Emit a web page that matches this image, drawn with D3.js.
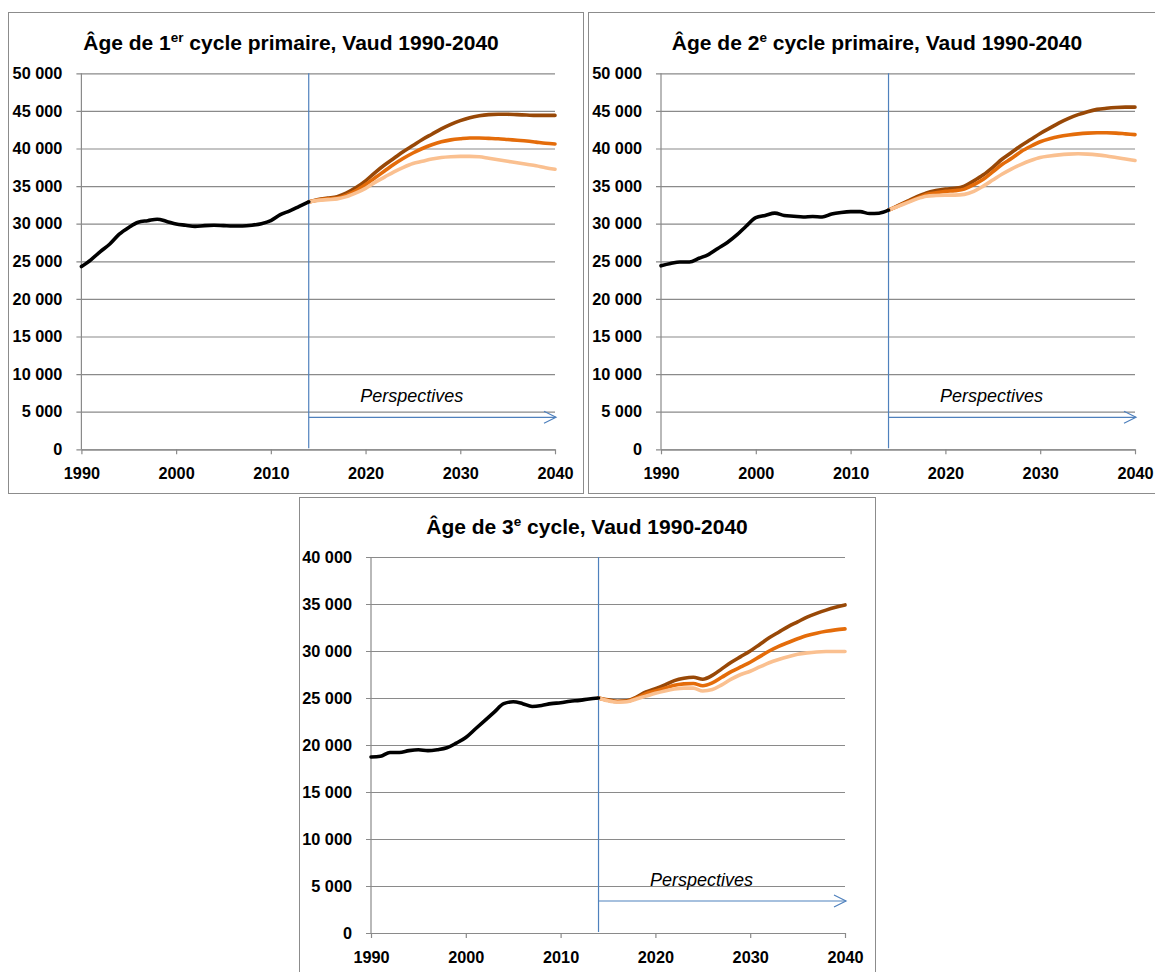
<!DOCTYPE html>
<html>
<head>
<meta charset="utf-8">
<script src="https://cdn.jsdelivr.net/npm/d3@7/dist/d3.min.js"></script>
<style>
  html, body { margin: 0; padding: 0; background: #ffffff; }
  svg { display: block; }
</style>
</head>
<body>
<svg id="chart" width="1155" height="972"></svg>
<script>
// ---------------- DATA ----------------
const histYears = [1990,1991,1992,1993,1994,1995,1996,1997,1998,1999,2000,2001,2002,2003,2004,2005,2006,2007,2008,2009,2010,2011,2012,2013,2014];
const projYears = [2014,2015,2016,2017,2018,2019,2020,2021,2022,2023,2024,2025,2026,2027,2028,2029,2030,2031,2032,2033,2034,2035,2036,2037,2038,2039,2040];

// Panel 1 : 1er cycle primaire
const p1Hist = [24300,25200,26300,27300,28600,29500,30200,30400,30600,30300,29950,29800,29650,29750,29800,29750,29700,29700,29800,30000,30400,31200,31700,32300,32900];
const p1High = [32900,33200,33400,33600,34100,34800,35700,36800,37800,38700,39600,40400,41200,41900,42600,43200,43700,44100,44350,44500,44550,44550,44500,44450,44400,44400,44400];
const p1Mid  = [32900,33150,33300,33400,33800,34400,35200,36100,37000,37900,38700,39400,40000,40500,40900,41150,41300,41400,41400,41350,41300,41200,41100,41000,40850,40700,40600];
const p1Low  = [32900,33100,33200,33300,33600,34100,34700,35500,36200,36900,37500,38000,38300,38600,38800,38900,38950,38950,38900,38700,38500,38300,38100,37900,37700,37450,37250];

// Panel 2 : 2e cycle primaire
const p2Hist = [24400,24700,24900,24900,25400,25900,26700,27500,28500,29700,30800,31100,31400,31100,31000,30900,30950,30900,31300,31500,31600,31600,31350,31400,31800];
const p2High = [31800,32400,33000,33600,34100,34400,34600,34700,35000,35700,36500,37500,38600,39500,40400,41200,42000,42700,43400,44000,44500,44900,45200,45350,45450,45500,45500];
const p2Mid  = [31800,32350,32900,33400,33900,34100,34300,34400,34600,35200,35900,36900,37900,38700,39600,40300,40900,41300,41600,41800,41950,42050,42100,42100,42050,41950,41850];
const p2Low  = [31800,32300,32800,33300,33650,33750,33800,33800,33900,34300,35000,35800,36600,37300,37900,38400,38800,39000,39150,39250,39300,39250,39150,39000,38800,38600,38400];

// Panel 3 : 3e cycle
const p3Hist = [18720,18800,19200,19200,19400,19500,19400,19500,19700,20200,20800,21700,22600,23500,24400,24600,24400,24100,24200,24400,24500,24650,24750,24900,25000];
const p3High = [25000,24800,24650,24700,25100,25650,26000,26400,26850,27100,27200,27000,27400,28100,28800,29400,30000,30700,31400,32000,32600,33100,33600,34000,34350,34650,34900];
const p3Mid  = [25000,24750,24600,24650,25000,25450,25750,26050,26350,26500,26550,26300,26600,27200,27800,28300,28800,29400,30000,30500,30900,31300,31650,31900,32100,32250,32350];
const p3Low  = [25000,24700,24550,24600,24900,25200,25500,25750,25950,26050,26050,25750,25900,26400,27000,27500,27850,28300,28750,29100,29400,29650,29800,29900,29950,29950,29950];

const xTicks = [1990,2000,2010,2020,2030,2040];
const yTicks50 = [0,5000,10000,15000,20000,25000,30000,35000,40000,45000,50000];
const yTicks40 = [0,5000,10000,15000,20000,25000,30000,35000,40000];
const xDomain = [1990, 2040];
const perspectiveYear = 2014;
const perspectivesLabel = "Perspectives";

const titles = [
  { pre: "Âge de 1", sup: "er", post: " cycle primaire, Vaud 1990-2040" },
  { pre: "Âge de 2", sup: "e",  post: " cycle primaire, Vaud 1990-2040" },
  { pre: "Âge de 3", sup: "e",  post: " cycle, Vaud 1990-2040" }
];

// ---------------- LAYOUT / STYLE ----------------
const colors = { hist: "#000000", high: "#984807", mid: "#E46C0A", low: "#FAC090", grid: "#8a8a8a", blue: "#4F81BD", frame: "#8c8c8c" };

const panels = [
  { frame: [8, 12, 575, 481],  plot: { left: 81.4, right: 555, top: 73.3, bottom: 449.3 }, titleX: 291, titleY: 50,
    yTicks: yTicks50, yMax: 50000, hist: p1Hist, high: p1High, mid: p1Mid, low: p1Low, title: titles[0] },
  { frame: [588, 12, 575, 481], plot: { left: 661, right: 1135, top: 73.3, bottom: 449.3 }, titleX: 877, titleY: 50,
    yTicks: yTicks50, yMax: 50000, hist: p2Hist, high: p2High, mid: p2Mid, low: p2Low, title: titles[1] },
  { frame: [299, 497, 576, 490], plot: { left: 371, right: 845, top: 557, bottom: 933 }, titleX: 587, titleY: 534,
    yTicks: yTicks40, yMax: 40000, hist: p3Hist, high: p3High, mid: p3Mid, low: p3Low, title: titles[2] }
];

const locale = d3.formatLocale({ decimal: ",", thousands: " ", grouping: [3], currency: ["", ""] });
const fmt = locale.format(",d");

const svg = d3.select("#chart");
const FONT = "'Liberation Sans', Arial, sans-serif";

panels.forEach(p => {
  const g = svg.append("g");
  const [fx, fy, fw, fh] = p.frame;
  g.append("rect").attr("x", fx + 0.5).attr("y", fy + 0.5).attr("width", fw).attr("height", fh)
    .attr("fill", "#fff").attr("stroke", colors.frame).attr("stroke-width", 1);

  const x = d3.scaleLinear().domain(xDomain).range([p.plot.left, p.plot.right]);
  const y = d3.scaleLinear().domain([0, p.yMax]).range([p.plot.bottom, p.plot.top]);
  const w = p.plot.right - p.plot.left;

  // Title
  const t = g.append("text").attr("x", p.titleX).attr("y", p.titleY).attr("text-anchor", "middle")
    .attr("font-family", FONT).attr("font-weight", "bold").attr("font-size", 21).attr("fill", "#000");
  t.append("tspan").text(p.title.pre);
  t.append("tspan").attr("dy", -8).attr("font-size", 13.5).text(p.title.sup);
  t.append("tspan").attr("dy", 8).text(p.title.post);

  // Y axis with gridlines
  const ya = g.append("g").attr("transform", `translate(${p.plot.left},0)`)
    .call(d3.axisLeft(y).tickValues(p.yTicks).tickSizeInner(-w).tickSizeOuter(0).tickPadding(19).tickFormat(fmt));
  ya.select(".domain").remove();
  ya.selectAll(".tick line").attr("x1", -5).attr("x2", w).attr("stroke", colors.grid).attr("stroke-width", 1.2);
  ya.selectAll(".tick text").attr("font-family", FONT).attr("font-weight", "bold").attr("font-size", 16.3).attr("fill", "#000");

  // X axis
  const xa = g.append("g").attr("transform", `translate(0,${p.plot.bottom})`)
    .call(d3.axisBottom(x).tickValues(xTicks).tickSize(5).tickSizeOuter(0).tickPadding(13.6).tickFormat(d3.format("d")));
  xa.select(".domain").attr("stroke", colors.grid).attr("stroke-width", 1.2);
  xa.selectAll(".tick line").attr("stroke", colors.grid).attr("stroke-width", 1.2);
  xa.selectAll(".tick text").attr("font-family", FONT).attr("font-weight", "bold").attr("font-size", 16.3).attr("fill", "#000");

  // Y axis line
  g.append("line").attr("x1", p.plot.left).attr("x2", p.plot.left).attr("y1", p.plot.top).attr("y2", p.plot.bottom)
    .attr("stroke", colors.grid).attr("stroke-width", 1.2);

  // Perspective marker line and arrow
  const mx = x(perspectiveYear);
  g.append("line").attr("x1", mx).attr("x2", mx).attr("y1", p.plot.top).attr("y2", p.plot.bottom - 1)
    .attr("stroke", colors.blue).attr("stroke-width", 1.2);
  const ay = p.plot.bottom - 32;
  const ax2 = p.plot.right + 1;
  g.append("line").attr("x1", mx).attr("x2", ax2).attr("y1", ay).attr("y2", ay)
    .attr("stroke", colors.blue).attr("stroke-width", 1.2);
  g.append("path").attr("d", `M${ax2 - 12},${ay - 6}L${ax2},${ay}L${ax2 - 12},${ay + 6}`)
    .attr("fill", "none").attr("stroke", colors.blue).attr("stroke-width", 1.2);
  g.append("text").attr("x", mx + 103).attr("y", ay - 15).attr("text-anchor", "middle")
    .attr("font-family", FONT).attr("font-style", "italic").attr("font-size", 18).attr("fill", "#000")
    .text(perspectivesLabel);

  // Lines
  const line = d3.line().x(d => x(d[0])).y(d => y(d[1])).curve(d3.curveMonotoneX);
  const series = [
    { years: projYears, values: p.high, color: colors.high },
    { years: projYears, values: p.mid,  color: colors.mid },
    { years: projYears, values: p.low,  color: colors.low },
    { years: histYears, values: p.hist, color: colors.hist }
  ];
  series.forEach(s => {
    g.append("path").datum(s.years.map((yr, i) => [yr, s.values[i]]))
      .attr("d", line).attr("fill", "none").attr("stroke", s.color)
      .attr("stroke-width", 3.6).attr("stroke-linejoin", "round").attr("stroke-linecap", "round");
  });
});
</script>
</body>
</html>
